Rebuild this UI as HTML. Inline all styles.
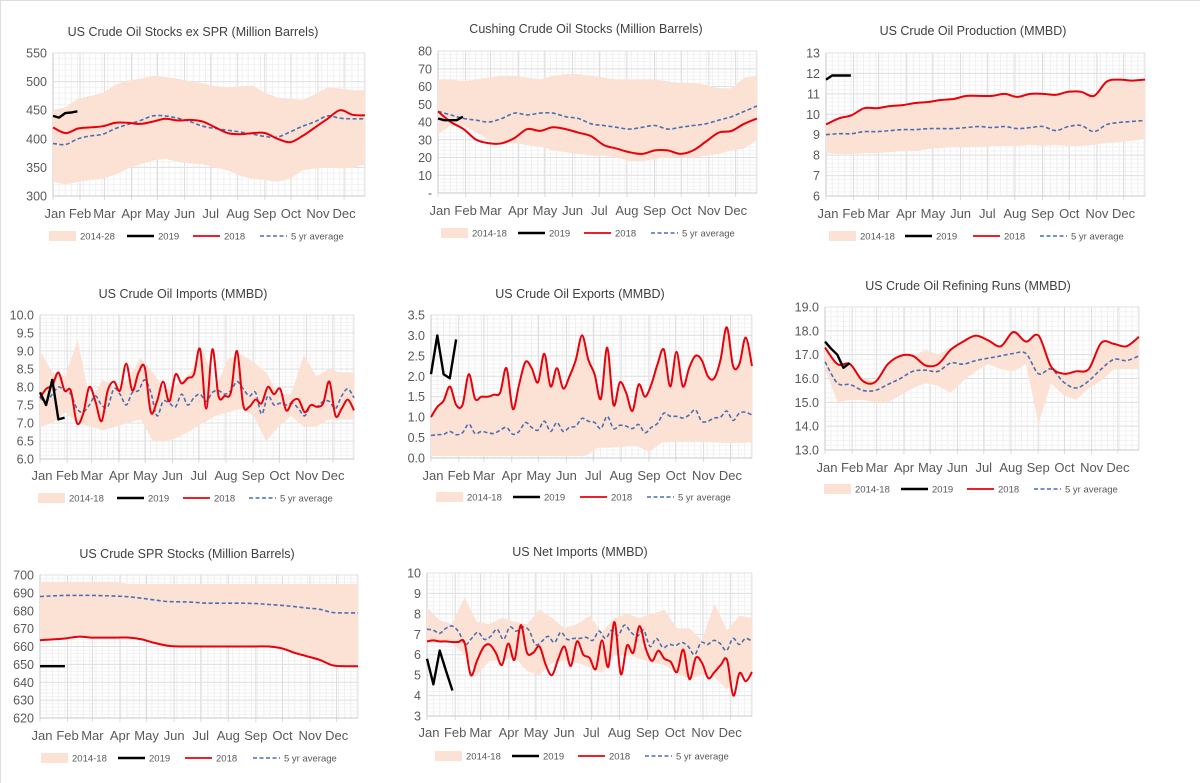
<!DOCTYPE html>
<html><head><meta charset="utf-8">
<style>
html,body{margin:0;padding:0;background:#fff;}
svg{display:block;font-family:"Liberation Sans",sans-serif;}
</style></head>
<body>
<svg id="root" width="1200" height="783" viewBox="0 0 1200 783">
<line x1="0" y1="0.5" x2="1200" y2="0.5" stroke="#ddd"/>
<line x1="0.5" y1="0" x2="0.5" y2="783" stroke="#ddd"/>
</svg>
<script>
const months = ["Jan","Feb","Mar","Apr","May","Jun","Jul","Aug","Sep","Oct","Nov","Dec"];
const monthDays = [0,31,59,90,120,151,181,212,243,273,304,334];
const legendLabels = ["2014-18","2019","2018","5 yr average"];

// Chart 1: US Crude Oil Stocks ex SPR
const c1Upper = [450,455,470,475,480,495,502,505,510,508,505,500,497,492,490,492,493,480,472,470,468,478,490,488,485,485];
const c1Lower = [325,320,325,328,330,337,348,355,362,365,360,357,355,350,345,335,330,328,325,330,345,348,350,348,350,355];
const c1Avg = [392,390,400,405,408,418,425,432,440,440,436,430,422,418,415,412,408,404,403,412,422,430,440,436,435,435];
const c1Y2018 = [420,410,418,420,422,428,428,426,430,435,432,433,430,420,410,408,410,410,400,394,405,420,435,450,442,441];
const c1Y2019 = [440,437,445,446,448];
const c1Ticks = ["300","350","400","450","500","550"];

// Chart 2: Cushing
const c2Upper = [64,64,63,64,65,66,66,65,64,66,67,67,66,65,64,64,64,64,63,62,62,61,59,59,65,66];
const c2Lower = [33,38,38,34,30,28,28,27,26,24,23,22,21,21,20,18,18,19,20,20,20,21,22,24,25,30];
const c2Avg = [46,44,42,41,40,42,45,44,45,45,43,42,39,38,37,36,37,38,36,37,38,39,41,43,46,49];
const c2Y2018 = [46,40,36,30,28,28,31,36,35,37,36,34,32,27,25,23,22,24,24,22,24,29,34,35,39,42];
const c2Y2019 = [42,41,41,41,43];
const c2Ticks = ["-","10","20","30","40","50","60","70","80"];

// Chart 3: Production
const c3Upper = [9.5,9.8,9.95,10.3,10.3,10.4,10.45,10.55,10.6,10.7,10.75,10.9,10.9,10.9,11.0,10.85,11.0,11.0,10.95,11.1,11.1,10.9,11.6,11.7,11.65,11.7];
const c3Lower = [8.1,8.05,8.05,8.1,8.1,8.15,8.2,8.2,8.3,8.35,8.4,8.4,8.4,8.45,8.45,8.45,8.5,8.45,8.5,8.45,8.45,8.5,8.6,8.65,8.7,8.8];
const c3Avg = [9.0,9.05,9.05,9.15,9.15,9.2,9.25,9.25,9.3,9.3,9.3,9.35,9.4,9.35,9.4,9.3,9.35,9.4,9.2,9.4,9.45,9.15,9.5,9.6,9.65,9.7];
const c3Y2018 = [9.5,9.8,9.95,10.3,10.3,10.4,10.45,10.55,10.6,10.7,10.75,10.9,10.9,10.9,11.0,10.85,11.0,11.0,10.95,11.1,11.1,10.9,11.6,11.7,11.65,11.7];
const c3Y2019 = [11.7,11.9,11.9,11.9,11.9];
const c3Ticks = ["6","7","8","9","10","11","12","13"];

// Chart 4: Imports
const c4Upper = [9.0,8.4,8.3,9.3,7.6,8.2,8.0,8.2,8.8,8.4,7.9,8.1,8.4,9.0,8.0,8.8,8.9,8.7,8.4,7.8,7.8,8.9,8.3,8.5,8.4,8.4];
const c4Lower = [6.9,7.0,7.3,7.0,6.9,6.8,6.9,7.0,7.1,6.5,6.5,6.6,6.8,7.0,7.2,7.3,7.4,7.2,6.5,6.9,7.2,6.9,6.9,7.1,7.1,7.1];
const c4Avg = [7.7,7.6,7.8,8.0,7.9,7.8,7.4,7.3,7.5,7.75,7.5,7.45,7.95,7.8,7.5,7.85,7.9,8.2,7.85,7.2,7.6,7.55,7.45,7.8,7.5,7.7,7.8,7.6,7.85,7.9,7.8,7.9,8.15,7.95,7.75,7.85,7.25,7.75,7.5,7.55,7.5,7.55,7.4,7.2,7.5,7.45,7.6,7.6,7.4,7.75,7.95,7.7];
const c4Y2018 = [7.7,7.95,8.05,8.4,7.9,7.9,7.0,7.25,8.0,7.6,7.05,7.9,8.15,7.9,8.65,7.9,8.4,8.55,7.3,7.6,8.15,7.6,8.35,8.1,8.25,8.35,9.05,7.4,9.05,7.75,7.75,7.85,9.0,7.5,7.45,7.65,7.55,8.0,7.8,7.95,7.35,7.6,7.65,7.3,7.5,7.45,7.55,8.15,7.2,7.4,7.65,7.35];
const c4Y2019 = [7.85,7.5,8.2,7.1,7.15];
const c4Ticks = ["6.0","6.5","7.0","7.5","8.0","8.5","9.0","9.5","10.0"];

// Chart 5: Exports
const c5Y2018 = [1.0,1.25,1.4,1.75,1.3,1.3,2.05,1.45,1.5,1.5,1.55,1.6,2.2,1.2,1.8,2.35,2.2,1.85,2.55,1.75,2.2,1.7,2.0,2.4,3.0,2.4,2.05,1.45,2.7,1.3,1.85,1.6,1.15,1.8,1.5,1.8,2.3,2.65,1.75,2.6,1.75,2.2,2.5,2.4,2.0,1.95,2.4,3.2,2.25,2.3,2.95,2.25];
const c5Upper = [1.0,1.25,1.4,1.75,1.3,1.3,2.05,1.45,1.5,1.5,1.55,1.6,2.2,1.2,1.8,2.35,2.2,1.85,2.55,1.75,2.2,1.7,2.0,2.4,3.0,2.4,2.05,1.45,2.7,1.3,1.85,1.6,1.15,1.8,1.5,1.8,2.3,2.65,1.75,2.6,1.75,2.2,2.5,2.4,2.0,1.95,2.4,3.2,2.25,2.3,2.95,2.25];
const c5Lower = [0.05,0.05,0.05,0.05,0.05,0.05,0.05,0.05,0.05,0.05,0.05,0.05,0.05,0.25,0.25,0.28,0.3,0.15,0.38,0.4,0.4,0.4,0.38,0.37,0.37,0.38];
const c5Avg = [0.55,0.57,0.58,0.65,0.57,0.62,0.83,0.6,0.65,0.62,0.6,0.68,0.75,0.58,0.65,0.87,0.75,0.68,0.9,0.65,0.87,0.65,0.75,0.78,0.97,0.9,0.87,0.72,1.02,0.72,0.8,0.78,0.72,0.82,0.62,0.75,0.85,1.1,1.02,1.02,0.98,1.05,1.18,0.9,0.9,0.98,1.0,1.15,0.92,1.1,1.12,1.05];
const c5Y2019 = [2.05,3.0,2.05,1.95,2.9];
const c5Ticks = ["0.0","0.5","1.0","1.5","2.0","2.5","3.0","3.5"];

// Chart 6: Refining runs
const c6Upper = [17.3,16.6,16.6,16.0,15.9,16.6,16.95,16.95,17.2,17.0,17.3,17.55,17.8,17.6,17.35,17.95,17.55,17.8,16.5,16.2,16.3,16.4,17.5,17.45,17.35,17.75];
const c6Lower = [16.4,15.0,15.1,15.1,15.0,15.0,15.3,15.6,15.8,15.7,15.4,15.9,16.3,16.6,16.4,16.3,16.6,14.1,15.8,15.3,15.1,15.6,15.9,16.4,16.4,16.4];
const c6Avg = [16.7,15.8,15.75,15.5,15.5,15.75,16.0,16.3,16.35,16.3,16.65,16.6,16.75,16.85,16.95,17.05,17.05,16.2,16.4,15.85,15.6,15.9,16.4,16.8,16.75,16.95];
const c6Y2018 = [17.3,16.6,16.6,15.9,15.85,16.6,16.95,16.95,16.55,16.6,17.2,17.55,17.8,17.6,17.35,17.95,17.55,17.8,16.5,16.2,16.3,16.4,17.5,17.45,17.35,17.75];
const c6Y2019 = [17.55,17.25,17.0,16.45,16.65];
const c6Ticks = ["13.0","14.0","15.0","16.0","17.0","18.0","19.0"];

// Chart 7: SPR
const c7Upper = [696,696,696,696,696,696,696,695,695,695,695,695,695,695,695,695,695,695,695,695,695,695,695,695,695,695];
const c7Y2018 = [663.5,664,664.5,665.5,665,665,665,665,664,662,660.5,660,660,660,660,660,660,660,660,659,656.5,654.5,652.5,649.5,649,649];
const c7Lower = [663.5,664,664.5,665.5,665,665,665,665,664,662,660.5,660,660,660,660,660,660,660,660,659,656.5,654.5,652.5,649.5,649,649];
const c7Avg = [688,688.3,688.6,688.6,688.6,688.4,688.2,687.8,687,686,685.2,685,684.8,684.3,684.2,684.2,684.2,684,683.5,683,682.3,681.5,680.8,679,678.8,678.8];
const c7Y2019 = [649,649,649,649,649];
const c7Ticks = ["620","630","640","650","660","670","680","690","700"];

// Chart 8: Net imports
const c8Upper = [8.3,7.7,7.5,8.8,7.6,7.5,7.8,7.6,7.5,8.2,7.8,7.3,7.5,7.9,7.1,7.8,8.0,7.8,8.0,8.2,7.3,7.3,6.7,8.5,7.2,7.9,7.8];
const c8Lower = [6.6,6.6,6.6,6.0,5.0,5.7,5.7,5.9,5.2,5.0,5.6,5.7,5.6,5.4,5.1,6.0,6.0,5.8,5.6,5.5,5.1,4.8,5.0,4.9,4.3,4.9,5.1];
const c8Avg = [7.25,7.2,7.05,7.3,7.4,7.1,6.5,6.8,7.1,6.75,6.9,7.25,6.75,7.35,7.15,7.35,7.2,6.5,6.65,6.9,6.6,7.1,6.75,6.8,6.8,6.85,6.7,7.15,6.8,7.2,6.95,7.45,7.1,6.9,7.2,6.4,6.8,6.35,6.5,6.45,6.6,6.4,6.0,6.6,6.5,6.7,6.55,6.2,6.8,6.5,6.8,6.65];
const c8Y2018 = [6.65,6.7,6.65,6.65,6.62,6.62,6.6,5.0,5.7,6.35,6.5,6.1,5.5,6.55,5.75,7.45,6.1,6.1,6.4,5.5,5.0,5.8,6.4,5.45,6.65,6.0,5.85,5.3,6.7,5.4,7.6,5.05,6.45,6.1,7.4,6.3,5.7,6.2,5.8,5.65,5.15,6.25,4.8,5.85,5.6,4.85,5.15,5.5,5.75,4.0,5.1,4.7,5.15];
const c8Y2019 = [5.8,4.55,6.2,5.2,4.25];
const c8Ticks = ["3","4","5","6","7","8","9","10"];

const NS = "http://www.w3.org/2000/svg";
const root = document.getElementById('root');
function mk(tag, attrs, parent){const e=document.createElementNS(NS,tag);for(const k in attrs)e.setAttribute(k,attrs[k]);(parent||root).appendChild(e);return e;}
function smooth(pts){
  if(pts.length<2)return "";
  let d="M"+pts[0][0].toFixed(1)+","+pts[0][1].toFixed(1);
  for(let i=0;i<pts.length-1;i++){
    const p0=pts[i-1]||pts[i],p1=pts[i],p2=pts[i+1],p3=pts[i+2]||p2;
    const c1x=p1[0]+(p2[0]-p0[0])/6,c1y=p1[1]+(p2[1]-p0[1])/6;
    const c2x=p2[0]-(p3[0]-p1[0])/6,c2y=p2[1]-(p3[1]-p1[1])/6;
    d+=" C"+c1x.toFixed(1)+","+c1y.toFixed(1)+" "+c2x.toFixed(1)+","+c2y.toFixed(1)+" "+p2[0].toFixed(1)+","+p2[1].toFixed(1);
  }
  return d;
}
function chart(cfg){
  const g=mk('g',{});
  
  
  const {x0,x1,y0,y1,min,max}=cfg;
  const xs=d=>x0+(d/358)*(x1-x0);
  const ys=v=>y1-(v-min)/(max-min)*(y1-y0);
  const idxX=(i,n)=>xs(i*358/(n-1));
  const nT=cfg.ticks.length, step=(max-min)/(nT-1);
  for(let v=min;v<=max+1e-9;v+=step/5){mk('line',{x1:x0,x2:x1,y1:ys(v),y2:ys(v),stroke:"#f3f3f3","stroke-width":1},g);}
  for(let d=0;d<=358;d+=7){mk('line',{x1:xs(d),x2:xs(d),y1:y0,y2:y1,stroke:"#f0f0f0","stroke-width":1},g);}
  monthDays.forEach(d=>mk('line',{x1:xs(d),x2:xs(d),y1:y0,y2:y1+4,stroke:"#dcdcdc","stroke-width":1},g));
  mk('line',{x1:x1,x2:x1,y1:y0,y2:y1,stroke:"#e4e4e4"},g);
  cfg.ticks.forEach((t,i)=>{
    const v=min+i*step;
    mk('line',{x1:x0,x2:x1,y1:ys(v),y2:ys(v),stroke:"#e0e0e0","stroke-width":1},g);
    const tx=mk('text',{x:x0-6,y:ys(v)+4.5,"text-anchor":"end","font-size":"12.5",fill:"#595959"},g);
    tx.textContent=t;
    
    
  });
  mk('line',{x1:x0,x2:x0,y1:y0,y2:y1,stroke:"#c8c8c8"},g);
  mk('line',{x1:x0,x2:x1,y1:y1,y2:y1,stroke:"#c8c8c8"},g);
  const up=cfg.upper.map((v,i)=>[idxX(i,cfg.upper.length),ys(v)]);
  const lo=cfg.lower.map((v,i)=>[idxX(i,cfg.lower.length),ys(v)]).reverse();
  const band=mk('polygon',{points:up.concat(lo).map(p=>p[0].toFixed(1)+","+p[1].toFixed(1)).join(" "),fill:"#fbe2d5"},g);
  
  
  const avg=mk('path',{d:smooth(cfg.avg.map((v,i)=>[idxX(i,cfg.avg.length),ys(v)])),fill:"none",stroke:"#4a6fb5","stroke-width":1.6,"stroke-dasharray":"4,2.5"},g);
  
  
  const r=mk('path',{d:smooth(cfg.y2018.map((v,i)=>[idxX(i,cfg.y2018.length),ys(v)])),fill:"none",stroke:"#e8000b","stroke-width":2},g);
  
  
  const b=mk('path',{d:"M"+cfg.y2019.map((v,i)=>xs(i*7).toFixed(1)+","+ys(v).toFixed(1)).join(" L"),fill:"none",stroke:"#000","stroke-width":2.4,"stroke-linejoin":"round"},g);
  
  
  months.forEach((m,i)=>{
    const t=mk('text',{x:xs(monthDays[i])+(i==0?2:0),y:cfg.my,"text-anchor":"middle","font-size":"13",fill:"#595959"},g);
    t.textContent=m;
    
    
  });
  const tt=mk('text',{x:cfg.tx,y:cfg.ty,"text-anchor":"middle","font-size":"12.5",fill:"#404040"},g);
  tt.textContent=cfg.title;
  
  
  const L=cfg.leg, ly=cfg.ly;
  const sw=mk('rect',{x:L[0],y:ly-5,width:27,height:10,fill:"#fbe2d5"},g);
  
  
  mk('line',{x1:L[1],x2:L[1]+27,y1:ly,y2:ly,stroke:"#000","stroke-width":2.4},g);
  mk('line',{x1:L[2],x2:L[2]+27,y1:ly,y2:ly,stroke:"#e8000b","stroke-width":1.8},g);
  mk('line',{x1:L[3],x2:L[3]+27,y1:ly,y2:ly,stroke:"#4a6fb5","stroke-width":1.6,"stroke-dasharray":"4,2.5"},g);
  legendLabels.forEach((s,i)=>{
    const t=mk('text',{x:L[i]+31,y:ly+3.5,"font-size":"9.5",fill:"#595959"},g);
    t.textContent=(i==0&&cfg.bandLabel)?cfg.bandLabel:s;
    
    
  });
}
chart({name:"crude-stocks-ex-spr-chart",title:"US Crude Oil Stocks ex SPR (Million Barrels)",bandLabel:"2014-28",x0:53,x1:365,y0:53,y1:196,min:300,max:550,ticks:c1Ticks,upper:c1Upper,lower:c1Lower,avg:c1Avg,y2018:c1Y2018,y2019:c1Y2019,tx:193,ty:36,my:218,ly:236,leg:[49,127,193,260]});
chart({name:"cushing-stocks-chart",title:"Cushing Crude Oil Stocks (Million Barrels)",x0:438,x1:757,y0:51,y1:193,min:0,max:80,ticks:c2Ticks,upper:c2Upper,lower:c2Lower,avg:c2Avg,y2018:c2Y2018,y2019:c2Y2019,tx:586,ty:33,my:215,ly:233,leg:[441,518,584,651]});
chart({name:"crude-production-chart",title:"US Crude Oil Production (MMBD)",x0:826,x1:1145,y0:53,y1:196,min:6,max:13,ticks:c3Ticks,upper:c3Upper,lower:c3Lower,avg:c3Avg,y2018:c3Y2018,y2019:c3Y2019,tx:973,ty:35,my:218,ly:236,leg:[829,905,973,1040]});
chart({name:"crude-imports-chart",title:"US Crude Oil Imports (MMBD)",x0:40,x1:354,y0:315,y1:459,min:6,max:10,ticks:c4Ticks,upper:c4Upper,lower:c4Lower,avg:c4Avg,y2018:c4Y2018,y2019:c4Y2019,tx:183,ty:298,my:480,ly:498,leg:[38,117,183,249]});
chart({name:"crude-exports-chart",title:"US Crude Oil Exports (MMBD)",x0:431,x1:752,y0:315,y1:458,min:0,max:3.5,ticks:c5Ticks,upper:c5Upper,lower:c5Lower,avg:c5Avg,y2018:c5Y2018,y2019:c5Y2019,tx:580,ty:298,my:480,ly:497,leg:[436,513,580,647]});
chart({name:"refining-runs-chart",title:"US Crude Oil Refining Runs (MMBD)",x0:825,x1:1139,y0:307,y1:450,min:13,max:19,ticks:c6Ticks,upper:c6Upper,lower:c6Lower,avg:c6Avg,y2018:c6Y2018,y2019:c6Y2019,tx:968,ty:290,my:472,ly:489,leg:[824,901,967,1034]});
chart({name:"spr-stocks-chart",title:"US Crude SPR Stocks (Million Barrels)",x0:40,x1:358,y0:575,y1:718,min:620,max:700,ticks:c7Ticks,upper:c7Upper,lower:c7Lower,avg:c7Avg,y2018:c7Y2018,y2019:c7Y2019,tx:187,ty:558,my:740,ly:758,leg:[41,118,185,253]});
chart({name:"net-imports-chart",title:"US Net Imports  (MMBD)",x0:427,x1:752,y0:573,y1:716,min:3,max:10,ticks:c8Ticks,upper:c8Upper,lower:c8Lower,avg:c8Avg,y2018:c8Y2018,y2019:c8Y2019,tx:580,ty:556,my:737,ly:756,leg:[435,512,578,645]});
</script>
</body></html>
